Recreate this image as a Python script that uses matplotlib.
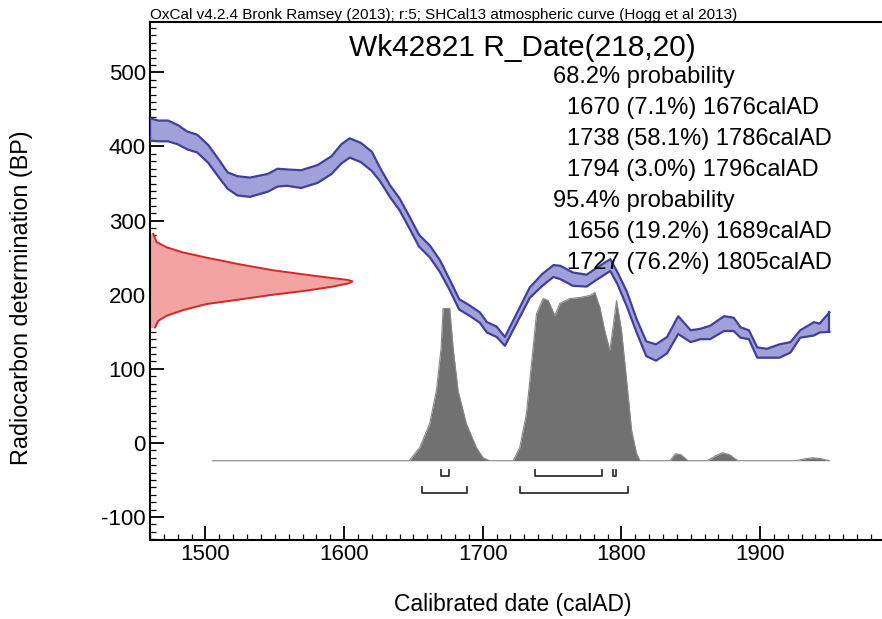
import numpy as np
import matplotlib
matplotlib.use("Agg")
import matplotlib.pyplot as plt
from matplotlib.ticker import MultipleLocator

plt.rcParams["font.family"] = ["Liberation Sans", "DejaVu Sans"]
plt.rcParams["axes.unicode_minus"] = False

# calibration curve (SHCal13): year, mean BP, half width
CURVE_YEAR = [1460, 1466, 1473, 1480, 1487, 1494, 1502, 1509, 1516, 1523, 1532,
              1545, 1552, 1559, 1569, 1581, 1591, 1598, 1604, 1612, 1620, 1626,
              1633, 1640, 1647, 1654, 1662, 1669, 1676, 1683, 1691, 1698, 1703,
              1710, 1716, 1734, 1743, 1751, 1756, 1765, 1775, 1782, 1792, 1797,
              1804, 1811, 1818, 1825, 1833, 1841, 1850, 1857, 1864, 1874, 1881,
              1886, 1892, 1898, 1905, 1914, 1922, 1929, 1939, 1943, 1950]
CURVE_BP = [423, 421, 421, 416, 408, 404, 390, 372, 354, 347, 345,
            351, 358, 358, 356, 363, 375, 390, 398, 392, 380, 362,
            340, 322, 298, 273, 258, 239, 214, 187, 178, 169, 156,
            150, 137, 203, 220, 232, 230, 221, 219, 228, 240, 223,
            194, 158, 127, 122, 132, 159, 144, 147, 149, 161, 160,
            149, 146, 122, 121, 124, 129, 147, 154, 155, 163]
CURVE_ERR = [15, 14, 14, 13, 12, 12, 12, 12, 11, 13, 13,
             12, 12, 11, 12, 12, 12, 13, 13, 13, 13, 9,
             8, 8, 8, 8, 8, 8, 7, 7, 7, 7, 7,
             7, 6, 7, 8, 8, 9, 9, 8, 8, 8, 8,
             10, 9, 10, 11, 11, 12, 8, 7, 9, 10, 9,
             7, 6, 7, 6, 9, 7, 5, 9, 6, 13]

# R_Date(218,20) shape on the BP axis: BP value, relative width
RDATE_BP = [282, 271, 264, 257, 250, 241, 233, 227, 222.5, 219.8, 218,
            215.3, 210.8, 205.4, 200, 193.6, 187.4, 179.3, 171.6, 164.9, 155.8]
RDATE_W = [0.016, 0.033, 0.082, 0.164, 0.279, 0.443, 0.607, 0.77, 0.90, 0.98, 1.0,
           0.98, 0.90, 0.77, 0.607, 0.443, 0.279, 0.164, 0.082, 0.041, 0.025]

# calibrated probability distribution (relative)
PROB_YEAR = [1505, 1645, 1647, 1654.5, 1661.7, 1666.6, 1670, 1671.4, 1676.2, 1678.6,
             1682.2, 1688.2, 1695.5, 1700.2, 1705, 1721.9, 1726.7, 1731.5, 1735.2,
             1738.8, 1743.6, 1747.2, 1752, 1755.6, 1762.8, 1770, 1777.3, 1780.9,
             1784.5, 1788, 1791.7, 1795.3, 1796.5, 1800.1, 1803.8, 1807.4, 1811,
             1813.4, 1835, 1839, 1843, 1848, 1862, 1868, 1873, 1878, 1884, 1926,
             1933, 1938, 1944, 1950]
PROB = [0, 0, 0, 13, 37, 70, 113, 152, 152, 113,
        70, 37, 13, 3, 0, 0, 13, 47, 97,
        147, 162, 160, 145, 157, 162, 163, 165, 168,
        153, 130, 110, 147, 160, 130, 80, 30, 7,
        0, 0, 7, 6, 0, 0, 5, 8, 6, 0, 0,
        2, 3, 2, 0]

RANGES_68 = [(1670, 1676), (1738, 1786), (1794, 1796)]
RANGES_95 = [(1656, 1689), (1727, 1805)]

SUMMARY = [
    ("68.2% probability", 0),
    ("1670 (7.1%) 1676calAD", 1),
    ("1738 (58.1%) 1786calAD", 1),
    ("1794 (3.0%) 1796calAD", 1),
    ("95.4% probability", 0),
    ("1656 (19.2%) 1689calAD", 1),
    ("1727 (76.2%) 1805calAD", 1),
]

W, H = 882, 619
XMIN, XMAX = 1460, 1988
YMIN, YMAX = -131, 568

fig = plt.figure(figsize=(W / 100, H / 100), dpi=100)
ax = fig.add_axes([150 / W, (H - 540) / H, (W - 150) / W, (540 - 22) / H])
ax.set_xlim(XMIN, XMAX)
ax.set_ylim(YMIN, YMAX)

# calibration curve band
yr = np.array(CURVE_YEAR)
bp = np.array(CURVE_BP)
err = np.array(CURVE_ERR)
edge = "#40409a"
ax.fill_between(yr, bp - err, bp + err, color="#a0a0da", lw=0, zorder=2)
ax.plot(yr, bp + err, color=edge, lw=1.6, zorder=3)
ax.plot(yr, bp - err, color=edge, lw=1.6, zorder=3)
ax.plot([yr[0], yr[0]], [bp[0] - err[0], bp[0] + err[0]], color=edge, lw=1.6, zorder=3)
ax.plot([yr[-1], yr[-1]], [bp[-1] - err[-1], bp[-1] + err[-1]], color=edge, lw=1.6, zorder=3)

# radiocarbon date on the y axis
rw = np.array(RDATE_W) * (1606 - XMIN)
ax.fill_betweenx(RDATE_BP, XMIN, XMIN + rw, color="#f4a3a3", lw=0, zorder=2)
ax.plot(XMIN + rw, RDATE_BP, color="#d92626", lw=1.4, zorder=3)

# calibrated distribution
base = -24
scale = 227 / max(PROB)
p = np.array(PROB) * scale
ax.fill_between(PROB_YEAR, base, base + p, color="#717171", lw=0, zorder=1)
ax.plot(PROB_YEAR, base + p, color="#888888", lw=0.8, zorder=1)

# range brackets
def bracket(lo, hi, y, h=9):
    ax.plot([lo, lo, hi, hi], [y + h, y, y, y + h], color="#333333", lw=1.3)

for lo, hi in RANGES_68:
    bracket(lo, hi, -45)
for lo, hi in RANGES_95:
    bracket(lo, hi, -68)

# axes style
ax.spines["right"].set_visible(False)
for s in ["left", "bottom", "top"]:
    ax.spines[s].set_linewidth(1.5)
ax.xaxis.set_major_locator(MultipleLocator(100))
ax.xaxis.set_minor_locator(MultipleLocator(10))
ax.yaxis.set_major_locator(MultipleLocator(100))
ax.yaxis.set_minor_locator(MultipleLocator(10))
ax.tick_params(which="major", direction="in", length=10, width=1.3, labelsize=16)
ax.tick_params(which="minor", direction="in", length=4, width=0.9)
ax.tick_params(axis="x", pad=3)
ax.tick_params(axis="y", pad=3)

fig.text(22 / W, 1 - 298 / H, "Radiocarbon determination (BP)", rotation=90,
         ha="center", va="center", fontsize=16.8)
fig.text(513 / W, 1 - 605 / H, "Calibrated date (calAD)", ha="center", va="center", fontsize=16.5)

fig.text(150 / W, 1 - 15 / H,
         "OxCal v4.2.4 Bronk Ramsey (2013); r:5; SHCal13 atmospheric curve (Hogg et al 2013)",
         ha="left", va="center", fontsize=11)
fig.text(522 / W, 1 - 48 / H, "Wk42821 R_Date(218,20)", ha="center", va="center", fontsize=21.5)

for i, (txt, indent) in enumerate(SUMMARY):
    x = 567 if indent else 553
    fig.text(x / W, 1 - (77 + i * 31) / H, txt, ha="left", va="center", fontsize=17)

fig.savefig("out.png", dpi=100)
